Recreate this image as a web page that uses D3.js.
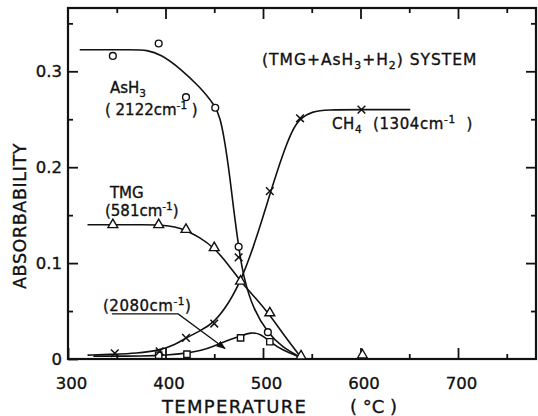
<!DOCTYPE html>
<html><head><meta charset="utf-8">
<script src="https://cdn.jsdelivr.net/npm/d3@7"></script>
<style>
html,body{margin:0;padding:0;background:#fff;}
svg text{font-family:"DejaVu Sans",sans-serif;fill:#111;stroke:#111;stroke-width:0.35px;}
</style></head>
<body>
<svg id="chart" width="538" height="416"></svg>
<script>
// ---- marker data (temperature °C, absorbability) ----
const asTemps   = [346, 393, 421, 451, 475, 505];
const asVals    = [0.316, 0.329, 0.273, 0.262, 0.117, 0.028];
const tmgTemps  = [346, 393, 421, 450, 477, 507, 539, 602];
const tmgVals   = [0.140, 0.140, 0.135, 0.116, 0.081, 0.048, 0.003, 0.004];
const ch4Temps  = [348, 394, 421, 450, 475, 507, 538, 601];
const ch4Vals   = [0.006, 0.008, 0.022, 0.037, 0.106, 0.175, 0.251, 0.260];
const h2080Temps = [393, 422, 477, 507];
const h2080Vals  = [0.004, 0.005, 0.022, 0.018];

// ---- hand-drawn fitted curves ----
const asFitT   = [312, 370, 380, 395, 415, 435, 451, 456, 461, 466, 470, 475, 480, 490, 505, 520, 538];
const asFitA   = [0.3225, 0.3225, 0.3222, 0.318, 0.303, 0.284, 0.264, 0.252, 0.226, 0.19, 0.155, 0.117, 0.085, 0.052, 0.027, 0.012, 0.002];
const tmgFitT  = [320, 385, 395, 410, 421, 435, 450, 464, 477, 492, 507, 522, 538];
const tmgFitA  = [0.140, 0.140, 0.1398, 0.138, 0.134, 0.127, 0.116, 0.099, 0.081, 0.064, 0.046, 0.024, 0.003];
const ch4FitT  = [320, 348, 370, 394, 410, 421, 435, 450, 465, 479, 494, 508, 520, 530, 538, 550, 566, 600, 651];
const ch4FitA  = [0.004, 0.005, 0.006, 0.009, 0.015, 0.022, 0.029, 0.038, 0.058, 0.085, 0.128, 0.175, 0.213, 0.239, 0.251, 0.258, 0.260, 0.260, 0.260];
const h2080FitT = [326, 380, 400, 422, 437, 449, 462, 477, 488, 498, 507, 520, 538];
const h2080FitA = [0.003, 0.003, 0.004, 0.006, 0.009, 0.013, 0.019, 0.024, 0.028, 0.026, 0.018, 0.009, 0.002];

// ---- ticks ----
const xMajor = [300, 400, 500, 600, 700];
const xMinor = [350, 450, 550, 650, 750];
const yMajor = [0, 0.1, 0.2, 0.3];
const yMinor = [0.05, 0.15, 0.25, 0.35];
const yLabels = ["0", "0.1", "0.2", "0.3"];

const svg = d3.select("#chart");
const x = d3.scaleLinear().domain([300, 780]).range([68, 536]);
const y = d3.scaleLinear().domain([0, 0.366]).range([359, 8]);

function styleAxis(g){
  g.select(".domain").remove();
  g.selectAll(".tick line").attr("stroke","#111").attr("stroke-width",1.8);
}
// bottom
svg.append("g").attr("transform","translate(0,359)")
  .call(d3.axisBottom(x).tickValues(xMajor).tickSize(-11).tickPadding(18).tickFormat(d3.format("d")))
  .call(styleAxis)
  .call(g=>g.selectAll("text").attr("font-size",16.5).attr("dx",3).attr("dy","0.71em").attr("fill","#111"));
svg.append("g").attr("transform","translate(0,359)")
  .call(d3.axisBottom(x).tickValues(xMinor).tickSize(-5).tickFormat(""))
  .call(styleAxis);
// top
svg.append("g").attr("transform","translate(0,8)")
  .call(d3.axisTop(x).tickValues(xMajor.slice(1)).tickSize(-11).tickFormat(""))
  .call(styleAxis);
svg.append("g").attr("transform","translate(0,8)")
  .call(d3.axisTop(x).tickValues(xMinor).tickSize(-5).tickFormat(""))
  .call(styleAxis);
// left
svg.append("g").attr("transform","translate(68,0)")
  .call(d3.axisLeft(y).tickValues(yMajor).tickSize(-10).tickPadding(6).tickFormat((d,i)=>yLabels[i]))
  .call(styleAxis)
  .call(g=>g.selectAll("text").attr("font-size",16.5).attr("fill","#111"));
svg.append("g").attr("transform","translate(68,0)")
  .call(d3.axisLeft(y).tickValues(yMinor).tickSize(-5).tickFormat(""))
  .call(styleAxis);
// right
svg.append("g").attr("transform","translate(536,0)")
  .call(d3.axisRight(y).tickValues(yMajor.slice(1)).tickSize(-10).tickFormat(""))
  .call(styleAxis);
svg.append("g").attr("transform","translate(536,0)")
  .call(d3.axisRight(y).tickValues(yMinor).tickSize(-5).tickFormat(""))
  .call(styleAxis);

// frame
svg.append("rect").attr("x",x(300)).attr("y",y(0.366))
  .attr("width",x(780)-x(300)).attr("height",y(0)-y(0.366))
  .attr("fill","none").attr("stroke","#111").attr("stroke-width",2.2);

// axis titles
svg.append("text").attr("x",162).attr("y",413).attr("font-size",18).attr("letter-spacing",1.3)
  .text("TEMPERATURE");
svg.append("text").attr("x",350).attr("y",413).attr("font-size",18).attr("xml:space","preserve")
  .text("( °C )");
svg.append("text").attr("transform","translate(26,216) rotate(-90)").attr("text-anchor","middle")
  .attr("font-size",17.5).attr("letter-spacing",0.6).text("ABSORBABILITY");

// curves
const line = d3.line().x(d=>x(d[0])).y(d=>y(d[1])).curve(d3.curveBasis);
const fits = [[asFitT,asFitA],[tmgFitT,tmgFitA],[ch4FitT,ch4FitA],[h2080FitT,h2080FitA]];
fits.forEach(([T,A])=>{
  svg.append("path").datum(T.map((t,i)=>[t,A[i]]))
    .attr("d",line).attr("fill","none").attr("stroke","#111").attr("stroke-width",1.6);
});

// markers
function pts(T,A){return T.map((t,i)=>[t,A[i]]);}
svg.append("g").selectAll("circle").data(pts(asTemps,asVals)).join("circle")
  .attr("cx",d=>x(d[0])).attr("cy",d=>y(d[1])).attr("r",3.4)
  .attr("fill","#fff").attr("stroke","#111").attr("stroke-width",1.4);
svg.append("g").selectAll("path").data(pts(tmgTemps,tmgVals)).join("path")
  .attr("transform",d=>`translate(${x(d[0])},${y(d[1])})`)
  .attr("d",d3.symbol(d3.symbolTriangle).size(42))
  .attr("fill","#fff").attr("stroke","#111").attr("stroke-width",1.4);
svg.append("g").selectAll("path").data(pts(h2080Temps,h2080Vals)).join("path")
  .attr("transform",d=>`translate(${x(d[0])},${y(d[1])})`)
  .attr("d",d3.symbol(d3.symbolSquare).size(40))
  .attr("fill","#fff").attr("stroke","#111").attr("stroke-width",1.4);
svg.append("g").selectAll("path").data(pts(ch4Temps,ch4Vals)).join("path")
  .attr("transform",d=>`translate(${x(d[0])},${y(d[1])})`)
  .attr("d",d3.symbol(d3.symbolTimes).size(40))
  .attr("fill","none").attr("stroke","#111").attr("stroke-width",1.5);

// annotations
function label(T,A,size,parts,ls){
  const t = svg.append("text").attr("x",x(T)).attr("y",y(A)).attr("font-size",size)
    .attr("letter-spacing",ls||0).attr("xml:space","preserve");
  parts.forEach(p=>{
    const s = t.append("tspan").text(p[0]);
    if(p[1]==="sub"){ s.attr("font-size",size*0.7).attr("dy",4); }
    else if(p[1]==="sup"){ s.attr("font-size",size*0.7).attr("dy",-6); }
    else if(p[1]==="subEnd"){ s.attr("dy",-4); }
    else if(p[1]==="supEnd"){ s.attr("dy",6); }
  });
  return t;
}
label(499,0.3066,15.5,[["(TMG+AsH"],["3","sub"],["+H","subEnd"],["2","sub"],[") SYSTEM","subEnd"]],1);
label(343,0.2774,15,[["AsH"],["3","sub"]]);
label(337.9,0.2545,15,[["( 2122cm"],["-1","sup"],[" )","supEnd"]]);
label(343,0.1679,15,[["TMG"]]);
label(337.9,0.149,15,[["(581cm"],["-1","sup"],[")","supEnd"]]);
label(335.9,0.050,15,[["(2080cm"],["-1","sup"],[")","supEnd"]],0.5);
label(570.8,0.240,15,[["CH"],["4","sub"],["  (1304cm","subEnd"],["-1","sup"],["  )","supEnd"]],0.6);

// leader arrow for 2080 cm-1
const defs = svg.append("defs");
defs.append("marker").attr("id","ah").attr("viewBox","0 0 10 10").attr("refX",9).attr("refY",5)
  .attr("markerWidth",7).attr("markerHeight",7).attr("orient","auto")
  .append("path").attr("d","M0,1 L10,5 L0,9 Z").attr("fill","#111");
const leader = [[345,0.047],[413,0.047],[461,0.011]];
svg.append("path").datum(leader).attr("d",d3.line().x(d=>x(d[0])).y(d=>y(d[1])))
  .attr("fill","none").attr("stroke","#111").attr("stroke-width",1.3).attr("marker-end","url(#ah)");
</script>
</body></html>
